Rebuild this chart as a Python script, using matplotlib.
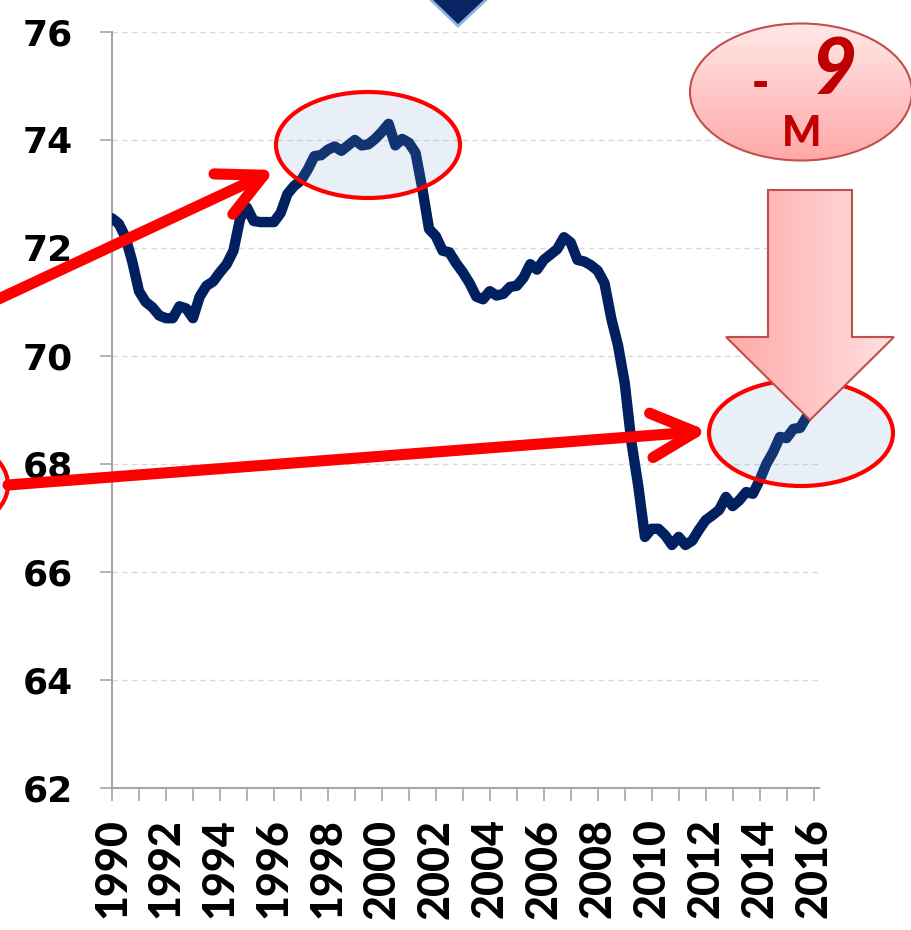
"""
Tasa de empleo trimestral 1990-2016 con anotaciones (flechas, elipses, -9 M).
"""

import matplotlib
matplotlib.use("Agg")
import matplotlib.pyplot as plt
import numpy as np
from matplotlib.patches import Ellipse, Polygon, FancyArrowPatch, ArrowStyle

# datos trimestrales (primer trimestre = 1990)
anio_inicio = 1990
tasa = [
    72.55, 72.45, 72.20, 71.75,   # 1990
    71.20, 71.00, 70.90, 70.75,   # 1991
    70.70, 70.70, 70.92, 70.88,   # 1992
    70.70, 71.10, 71.30, 71.38,   # 1993
    71.55, 71.70, 71.95, 72.55,   # 1994
    72.75, 72.50, 72.48, 72.48,   # 1995
    72.48, 72.65, 73.00, 73.15,   # 1996
    73.25, 73.45, 73.70, 73.72,   # 1997
    73.82, 73.88, 73.80, 73.90,   # 1998
    74.00, 73.90, 73.92, 74.02,   # 1999
    74.15, 74.30, 73.90, 74.02,   # 2000
    73.95, 73.76, 73.10, 72.35,   # 2001
    72.22, 71.95, 71.92, 71.72,   # 2002
    71.55, 71.35, 71.10, 71.05,   # 2003
    71.20, 71.12, 71.15, 71.28,   # 2004
    71.30, 71.45, 71.70, 71.60,   # 2005
    71.78, 71.88, 71.98, 72.20,   # 2006
    72.10, 71.78, 71.75, 71.68,   # 2007
    71.58, 71.35, 70.70, 70.20,   # 2008
    69.50, 68.40, 67.60, 66.65,   # 2009
    66.80, 66.80, 66.68, 66.50,   # 2010
    66.65, 66.50, 66.58, 66.78,   # 2011
    66.96, 67.05, 67.15, 67.39,   # 2012
    67.22, 67.33, 67.48, 67.45,   # 2013
    67.70, 68.00, 68.22, 68.50,   # 2014
    68.48, 68.65, 68.67, 68.88,   # 2015
]
trimestres = anio_inicio + np.arange(len(tasa)) / 4

anios_etiqueta = list(range(1990, 2017, 2))
anios_menores = list(range(1991, 2016, 2))
niveles_y = list(range(62, 77, 2))

AZUL = "#002060"
ROJO = "#ff0000"
BORDE_ROSA = "#c0504d"
GRIS = "#a6a6a6"
ETIQ = ["Lato", "DejaVu Sans"]

W, H = 912, 930
fig = plt.figure(figsize=(W / 100, H / 100), dpi=100)
fig.patch.set_facecolor("white")

# ---- grafico principal ------------------------------------------------------
ax = fig.add_axes([112 / W, 1 - 788 / H, (819 - 112) / W, 756 / H])
ax.plot(trimestres, tasa, color=AZUL, lw=7.5, solid_joinstyle="round",
        solid_capstyle="round", zorder=3)
ax.set_xlim(1990, 2016.2)
ax.set_ylim(62, 76)
ax.set_yticks(niveles_y)
ax.set_yticklabels([str(v) for v in niveles_y],
                   fontdict={"family": "DejaVu Sans", "weight": "bold",
                             "size": 26})
ax.set_xticks(anios_etiqueta)
ax.set_xticklabels([str(a) for a in anios_etiqueta], rotation=90,
                   fontdict={"family": ETIQ, "weight": "black", "size": 31})
ax.set_xticks(anios_menores, minor=True)
ax.tick_params(axis="y", length=9, width=1.2, color=GRIS, pad=19)
ax.tick_params(axis="x", which="both", length=9, width=1.2, color=GRIS, pad=13)
for lado in ["top", "right"]:
    ax.spines[lado].set_visible(False)
for lado in ["left", "bottom"]:
    ax.spines[lado].set_color(GRIS)
    ax.spines[lado].set_linewidth(1.5)
for v in niveles_y[1:]:
    ax.axhline(v, color="#d9d9d9", lw=1, dashes=(4, 3), zorder=1)
ax.set_facecolor("none")

# ---- capa de anotaciones en pixeles ----------------------------------------
ov = fig.add_axes([0, 0, 1, 1], zorder=5)
ov.set_xlim(0, W)
ov.set_ylim(H, 0)
ov.axis("off")
ov.patch.set_alpha(0)


def degradado(patch, c1, c2, extent, vertical=True):
    g = np.linspace(0, 1, 256)[:, None]
    cols = (1 - g) * np.array(c1) + g * np.array(c2)
    img = cols[:, None, :] if vertical else cols[None, :, :]
    im = ov.imshow(img, extent=extent, aspect="auto", origin="upper",
                   zorder=patch.get_zorder() - 0.05, interpolation="bilinear")
    im.set_clip_path(patch)


# elipses rojas semitransparentes
for cx, cy, w, h in [(368, 145, 184, 106), (801, 433, 184, 106), (-82, 485, 180, 107)]:
    ov.add_patch(Ellipse((cx, cy), w, h, facecolor=(0.45, 0.62, 0.82, 0.16),
                         edgecolor=ROJO, lw=3, zorder=2))

# flechas rojas
estilo = ArrowStyle("->", head_length=0.32, head_width=0.16)
for a, b in [((-10, 303), (275, 170)), ((8, 485), (708, 431))]:
    ov.add_patch(FancyArrowPatch(a, b, arrowstyle=estilo, mutation_scale=100,
                                 color=ROJO, lw=8, capstyle="round",
                                 joinstyle="round", shrinkA=0, shrinkB=0,
                                 zorder=3))

# triangulo azul cortado arriba
ov.add_patch(Polygon([(428, -3), (489, -3), (458, 26)], closed=True,
                     facecolor="#0a2463", edgecolor="#8db3e2", lw=2, zorder=3))

# flecha rosa hacia abajo
flecha = Polygon([(768, 190), (852, 190), (852, 337), (894, 337), (810, 420),
                  (726, 337), (768, 337)], closed=True, facecolor="none",
                 edgecolor=BORDE_ROSA, lw=1.5, zorder=4)
ov.add_patch(flecha)
degradado(flecha, (1.0, 0.66, 0.66), (1.0, 0.88, 0.88), (726, 894, 420, 190),
          vertical=False)

# globo "- 9 M"
globo = Ellipse((801, 92), 222, 137, facecolor="none", edgecolor=BORDE_ROSA,
                lw=1.5, zorder=4)
ov.add_patch(globo)
degradado(globo, (1.0, 0.91, 0.91), (1.0, 0.66, 0.66), (690, 912, 160, 23))

ROJO_OSCURO = "#c00000"
ov.text(760, 84, "-", color=ROJO_OSCURO, family="DejaVu Sans", weight="bold",
        size=30, ha="center", va="center", zorder=6)
ov.text(834, 72, "9", color=ROJO_OSCURO, family=ETIQ, weight="black",
        style="italic", size=56, ha="center", va="center", zorder=6)
ov.text(802, 134, "M", color=ROJO_OSCURO, family=ETIQ, weight="black",
        size=30, ha="center", va="center", zorder=6)

fig.savefig("out.png", dpi=100, facecolor="white")
